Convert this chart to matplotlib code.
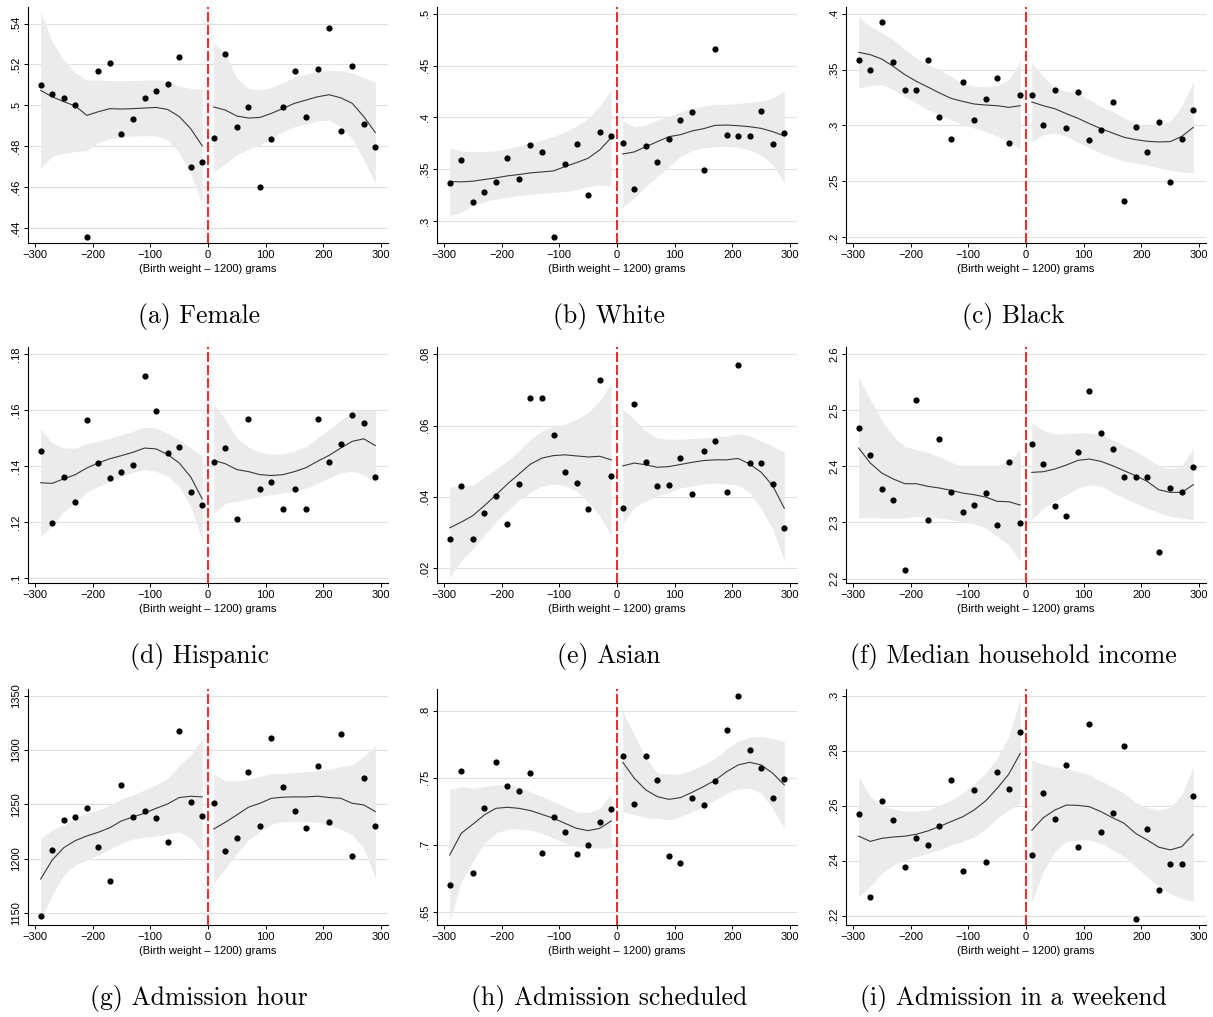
import numpy as np
import matplotlib
matplotlib.use("Agg")
import matplotlib.pyplot as plt

plt.rcParams['font.family'] = ['Liberation Sans', 'DejaVu Sans']

# bin centres, 20 g wide, 15 on each side of the 1200 g cutoff
bins = [-290, -270, -250, -230, -210, -190, -170, -150, -130, -110, -90, -70, -50, -30, -10,
        10, 30, 50, 70, 90, 110, 130, 150, 170, 190, 210, 230, 250, 270, 290]

# (a) Female
female_pts = [.5099, .5057, .5036, .5000, .4356, .5166, .5205, .4859, .4935, .5036, .5072, .5104, .5236, .4698, .4722,
              .4842, .5252, .4896, .4990, .4603, .4834, .4990, .5166, .4941, .5179, .5380, .4873, .5192, .4911, .4797]
female_fit = [.5073, .5042, .5018, .4997, .4951, .4969, .4984, .4982, .4984, .4987, .4990, .4980, .4946, .4886, .4802,
              .4992, .4977, .4948, .4938, .4941, .4961, .4985, .5010, .5026, .5042, .5052, .5037, .5010, .4945, .4867]
female_hi = [.5457, .5310, .5221, .5159, .5124, .5124, .5121, .5121, .5121, .5124, .5124, .5116, .5094, .5083, .5078,
             .5306, .5254, .5132, .5083, .5075, .5088, .5111, .5140, .5153, .5164, .5172, .5169, .5159, .5135, .5115]
female_lo = [.4693, .4750, .4766, .4774, .4779, .4818, .4839, .4847, .4850, .4852, .4850, .4831, .4769, .4668, .4518,
             .4676, .4714, .4758, .4785, .4807, .4839, .4872, .4896, .4909, .4925, .4928, .4896, .4839, .4733, .4616]

# (b) White
white_pts = [.3372, .3587, .3180, .3282, .3378, .3612, .3404, .3731, .3667, .2846, .3555, .3744, .3253, .3859, .3821,
             .3756, .3311, .3721, .3571, .3795, .3974, .4051, .3490, .4657, .3827, .3817, .3817, .4064, .3747, .3849]
white_fit = [.3382, .3378, .3385, .3401, .3417, .3436, .3449, .3465, .3474, .3484, .3526, .3564, .3606, .3686, .3805,
             .3647, .3667, .3718, .3766, .3814, .3833, .3869, .3891, .3923, .3926, .3920, .3910, .3894, .3862, .3821]
white_hi = [.3708, .3676, .3670, .3670, .3679, .3699, .3724, .3750, .3782, .3814, .3862, .3917, .3990, .4109, .4263,
            .3968, .3910, .3926, .3974, .4006, .4054, .4087, .4109, .4128, .4125, .4135, .4144, .4157, .4183, .4256]
white_lo = [.3051, .3087, .3148, .3189, .3212, .3231, .3244, .3260, .3269, .3276, .3285, .3301, .3333, .3349, .3340,
            .3141, .3221, .3333, .3430, .3526, .3622, .3680, .3705, .3718, .3718, .3712, .3686, .3638, .3542, .3372]

# (c) Black
black_pts = [.3585, .3493, .3922, .3564, .3313, .3313, .3585, .3078, .2875, .3391, .3045, .3239, .3424, .2842, .3275,
             .3269, .3003, .3313, .2973, .3299, .2869, .2955, .3206, .2322, .2982, .2761, .3030, .2496, .2878, .3137]
black_fit = [.3654, .3633, .3594, .3528, .3454, .3394, .3343, .3290, .3242, .3215, .3191, .3182, .3176, .3161, .3176,
             .3209, .3176, .3149, .3104, .3063, .3015, .2970, .2931, .2893, .2872, .2857, .2851, .2854, .2901, .2982]
black_hi = [.3970, .3887, .3827, .3767, .3678, .3603, .3543, .3499, .3439, .3373, .3349, .3343, .3355, .3409, .3573,
            .3558, .3439, .3334, .3304, .3290, .3230, .3170, .3125, .3066, .3021, .2997, .3006, .3036, .3170, .3394]
black_lo = [.3334, .3355, .3364, .3319, .3254, .3200, .3141, .3096, .3051, .3006, .2976, .2946, .2901, .2857, .2788,
            .2857, .2916, .2931, .2901, .2848, .2797, .2752, .2716, .2678, .2663, .2642, .2618, .2597, .2582, .2573]

# (d) Hispanic
hisp_pts = [.1453, .1197, .1360, .1272, .1566, .1412, .1356, .1379, .1403, .1720, .1595, .1445, .1467, .1306, .1259,
            .1416, .1466, .1212, .1569, .1319, .1343, .1245, .1319, .1248, .1569, .1416, .1479, .1583, .1555, .1359]
hisp_fit = [.1340, .1338, .1354, .1369, .1393, .1411, .1426, .1437, .1449, .1464, .1461, .1441, .1411, .1361, .1282,
            .1420, .1408, .1387, .1380, .1369, .1366, .1369, .1380, .1394, .1417, .1438, .1464, .1488, .1497, .1473]
hisp_hi = [.1532, .1482, .1464, .1464, .1479, .1488, .1500, .1512, .1524, .1538, .1536, .1516, .1494, .1464, .1437,
           .1619, .1566, .1500, .1468, .1449, .1443, .1443, .1453, .1470, .1500, .1530, .1563, .1595, .1599, .1599]
hisp_lo = [.1149, .1185, .1238, .1268, .1306, .1328, .1345, .1363, .1378, .1387, .1381, .1363, .1328, .1256, .1131,
           .1232, .1266, .1274, .1282, .1292, .1298, .1304, .1310, .1319, .1339, .1357, .1375, .1381, .1369, .1340]

# (e) Asian
asian_pts = [.0281, .0431, .0282, .0356, .0403, .0324, .0435, .0679, .0679, .0574, .0469, .0438, .0367, .0727, .0459,
             .0369, .0662, .0498, .0431, .0433, .0509, .0409, .0528, .0556, .0414, .0771, .0494, .0496, .0436, .0313]
asian_fit = [.0313, .0329, .0347, .0375, .0405, .0436, .0464, .0492, .0509, .0516, .0518, .0515, .0512, .0514, .0504,
             .0487, .0495, .0490, .0483, .0485, .0491, .0497, .0502, .0504, .0504, .0508, .0492, .0469, .0431, .0368]
asian_hi = [.0427, .0432, .0432, .0455, .0478, .0501, .0529, .0562, .0585, .0598, .0604, .0618, .0637, .0669, .0719,
            .0646, .0618, .0585, .0565, .0562, .0562, .0564, .0565, .0569, .0571, .0578, .0571, .0557, .0543, .0525]
asian_lo = [.0172, .0222, .0254, .0292, .0329, .0361, .0390, .0413, .0430, .0436, .0431, .0417, .0385, .0347, .0292,
            .0324, .0371, .0388, .0403, .0413, .0425, .0431, .0436, .0439, .0436, .0433, .0413, .0366, .0310, .0219]

# (f) Median household income
income_pts = [2.4675, 2.4206, 2.3600, 2.3392, 2.2145, 2.5174, 2.3048, 2.4479, 2.3535, 2.3190, 2.3303, 2.3523, 2.2959, 2.4081, 2.2982,
              2.4390, 2.4046, 2.3285, 2.3119, 2.4254, 2.5341, 2.4586, 2.4307, 2.3808, 2.3808, 2.3814, 2.2478, 2.3612, 2.3535, 2.3986]
income_fit = [2.4325, 2.4058, 2.3879, 2.3773, 2.3689, 2.3689, 2.3642, 2.3612, 2.3571, 2.3523, 2.3493, 2.3452, 2.3375, 2.3369, 2.3309,
              2.3891, 2.3903, 2.3951, 2.4022, 2.4105, 2.4129, 2.4087, 2.4010, 2.3921, 2.3832, 2.3731, 2.3582, 2.3535, 2.3535, 2.3672]
income_hi = [2.5590, 2.5186, 2.4829, 2.4533, 2.4355, 2.4295, 2.4248, 2.4165, 2.4070, 2.4010, 2.4010, 2.4010, 2.4010, 2.4105, 2.4295,
             2.4770, 2.4640, 2.4580, 2.4580, 2.4592, 2.4592, 2.4562, 2.4473, 2.4367, 2.4266, 2.4147, 2.4010, 2.3951, 2.3998, 2.4325]
income_lo = [2.3078, 2.3095, 2.3078, 2.3078, 2.3078, 2.3107, 2.3095, 2.3078, 2.3048, 2.3018, 2.2977, 2.2899, 2.2751, 2.2602, 2.2305,
             2.3048, 2.3256, 2.3375, 2.3493, 2.3612, 2.3672, 2.3642, 2.3535, 2.3434, 2.3345, 2.3256, 2.3167, 2.3107, 2.3078, 2.3048]

# (g) Admission hour
hour_pts = [1147.0, 1207.7, 1235.3, 1238.4, 1246.3, 1210.8, 1179.2, 1267.8, 1238.4, 1243.9, 1237.1, 1215.4, 1317.8, 1252.5, 1239.3,
            1251.5, 1207.1, 1219.3, 1279.5, 1229.8, 1311.4, 1265.7, 1243.6, 1228.5, 1285.0, 1233.5, 1315.0, 1202.8, 1274.6, 1230.4]
hour_fit = [1181.3, 1198.8, 1210.1, 1216.6, 1220.9, 1224.3, 1228.5, 1234.7, 1238.4, 1241.7, 1246.3, 1250.3, 1256.2, 1257.4, 1256.8,
            1227.3, 1233.5, 1240.2, 1247.3, 1250.9, 1255.5, 1256.5, 1256.8, 1256.8, 1257.4, 1256.2, 1255.5, 1250.9, 1249.4, 1243.3]
hour_hi = [1218.7, 1226.4, 1231.0, 1237.1, 1241.7, 1244.8, 1249.4, 1254.9, 1258.6, 1263.2, 1267.8, 1273.9, 1285.6, 1295.4, 1309.8,
           1278.0, 1271.5, 1271.5, 1273.0, 1275.5, 1278.5, 1278.5, 1279.2, 1280.1, 1281.0, 1282.2, 1284.7, 1286.2, 1293.9, 1303.7]
hour_lo = [1143.6, 1166.6, 1185.0, 1194.2, 1198.8, 1203.4, 1208.9, 1214.1, 1218.1, 1219.7, 1220.9, 1222.4, 1224.9, 1218.7, 1206.5,
           1177.3, 1191.1, 1204.9, 1217.2, 1224.9, 1231.6, 1234.1, 1234.1, 1234.1, 1233.5, 1231.0, 1227.3, 1221.8, 1209.5, 1181.9]

# (h) Admission scheduled
sched_pts = [.6698, .7548, .6790, .7275, .7620, .7436, .7399, .7535, .6939, .7210, .7093, .6932, .6996, .7170, .7265,
             .7662, .7307, .7662, .7481, .6917, .6862, .7347, .7297, .7476, .7856, .8112, .7709, .7573, .7349, .7488]
sched_fit = [.6924, .7086, .7153, .7223, .7272, .7280, .7272, .7255, .7227, .7198, .7160, .7123, .7106, .7123, .7178,
             .7615, .7496, .7409, .7359, .7339, .7352, .7391, .7434, .7481, .7545, .7595, .7615, .7595, .7533, .7446]
sched_hi = [.7414, .7434, .7421, .7434, .7446, .7451, .7434, .7396, .7359, .7322, .7285, .7247, .7240, .7272, .7372,
            .7988, .7819, .7645, .7533, .7528, .7528, .7558, .7595, .7645, .7714, .7774, .7801, .7806, .7794, .7769]
sched_lo = [.6428, .6726, .6875, .7011, .7086, .7118, .7118, .7111, .7086, .7049, .7011, .6987, .6979, .6974, .6979,
            .7247, .7223, .7203, .7198, .7185, .7210, .7247, .7285, .7334, .7384, .7416, .7421, .7384, .7272, .7118]

# (i) Admission in a weekend
wkend_pts = [.2571, .2266, .2616, .2548, .2378, .2482, .2457, .2527, .2693, .2362, .2657, .2395, .2722, .2659, .2869,
             .2421, .2647, .2550, .2747, .2450, .2897, .2504, .2573, .2817, .2187, .2516, .2295, .2388, .2388, .2634]
wkend_fit = [.2489, .2470, .2481, .2486, .2489, .2496, .2508, .2524, .2542, .2559, .2584, .2617, .2663, .2714, .2790,
             .2510, .2556, .2584, .2602, .2601, .2596, .2578, .2556, .2536, .2499, .2475, .2449, .2439, .2451, .2496]
wkend_hi = [.2705, .2633, .2600, .2587, .2581, .2581, .2584, .2600, .2621, .2645, .2681, .2718, .2772, .2851, .2988,
            .2766, .2750, .2742, .2733, .2724, .2712, .2690, .2669, .2645, .2611, .2593, .2584, .2593, .2639, .2742]
wkend_lo = [.2269, .2306, .2354, .2384, .2402, .2415, .2427, .2439, .2457, .2469, .2487, .2515, .2554, .2584, .2609,
            .2251, .2360, .2433, .2469, .2475, .2475, .2463, .2439, .2415, .2378, .2342, .2306, .2281, .2261, .2253]

captions = ["(a) Female", "(b) White", "(c) Black",
            "(d) Hispanic", "(e) Asian", "(f) Median household income",
            "(g) Admission hour", "(h) Admission scheduled", "(i) Admission in a weekend"]

yticks = [[.44, .46, .48, .5, .52, .54], [.3, .35, .4, .45, .5], [.2, .25, .3, .35, .4],
          [.1, .12, .14, .16, .18], [.02, .04, .06, .08], [2.2, 2.3, 2.4, 2.5, 2.6],
          [1150, 1200, 1250, 1300, 1350], [.65, .7, .75, .8], [.22, .24, .26, .28, .3]]
ylabels = [[".44", ".46", ".48", ".5", ".52", ".54"], [".3", ".35", ".4", ".45", ".5"],
           [".2", ".25", ".3", ".35", ".4"], [".1", ".12", ".14", ".16", ".18"],
           [".02", ".04", ".06", ".08"], ["2.2", "2.3", "2.4", "2.5", "2.6"],
           ["1150", "1200", "1250", "1300", "1350"], [".65", ".7", ".75", ".8"],
           [".22", ".24", ".26", ".28", ".3"]]
ylims = [(.4327, .5481), (.2789, .5064), (.1946, .406),
         (.0982, .1825), (.0158, .0821), (2.192, 2.6125),
         (1139, 1356), (.6403, .8161), (.2166, .3024)]

series = [(female_pts, female_fit, female_lo, female_hi),
          (white_pts, white_fit, white_lo, white_hi),
          (black_pts, black_fit, black_lo, black_hi),
          (hisp_pts, hisp_fit, hisp_lo, hisp_hi),
          (asian_pts, asian_fit, asian_lo, asian_hi),
          (income_pts, income_fit, income_lo, income_hi),
          (hour_pts, hour_fit, hour_lo, hour_hi),
          (sched_pts, sched_fit, sched_lo, sched_hi),
          (wkend_pts, wkend_fit, wkend_lo, wkend_hi)]

W, H = 1213, 1017
fig = plt.figure(figsize=(W / 100, H / 100), dpi=100)

col_left = [28, 437, 846]
col_cap = [199, 609, 1013]
row_top = [7, 347, 689]
row_cap = [317, 657, 998]
ax_w, ax_h = 360, 236

x = np.array(bins)
left = x < 0
right = x > 0

for k, (pts, fit, lo, hi) in enumerate(series):
    r, c = divmod(k, 3)
    ax = fig.add_axes([col_left[c] / W, 1 - (row_top[r] + ax_h) / H, ax_w / W, ax_h / H])
    pts, fit, lo, hi = map(np.array, (pts, fit, lo, hi))

    for side in (left, right):
        ax.fill_between(x[side], lo[side], hi[side], color="#ebebeb", lw=0, zorder=2)
        ax.plot(x[side], fit[side], color="#3a3a3a", lw=0.8, zorder=3)
    ax.scatter(x, pts, s=20, color="black", lw=0, zorder=4)
    ax.axvline(0, color="red", lw=1.2, ls=(0, (6, 1.8)), zorder=5)

    ax.set_xlim(-312, 312)
    ax.set_ylim(*ylims[k])
    ax.set_xticks([-300, -200, -100, 0, 100, 200, 300])
    ax.set_xticklabels(["\u2212300", "\u2212200", "\u2212100", "0", "100", "200", "300"], fontsize=8)
    ax.set_yticks(yticks[k])
    ax.set_yticklabels(ylabels[k], rotation=90, va="center", fontsize=8)
    ax.yaxis.grid(True, color="#e0e0e0", lw=0.8, zorder=1)
    ax.set_axisbelow(True)
    ax.set_xlabel("(Birth weight \u2013 1200) grams", fontsize=8, labelpad=3)
    for s in ("top", "right"):
        ax.spines[s].set_visible(False)
    for s in ("left", "bottom"):
        ax.spines[s].set_linewidth(0.8)
    ax.tick_params(length=3, width=0.7, pad=2)

    fig.text(col_cap[c] / W, 1 - row_cap[r] / H, captions[k], family="cmr10",
             fontsize=18.5, ha="center", va="center")

fig.savefig("out.png", dpi=100, facecolor="white")
